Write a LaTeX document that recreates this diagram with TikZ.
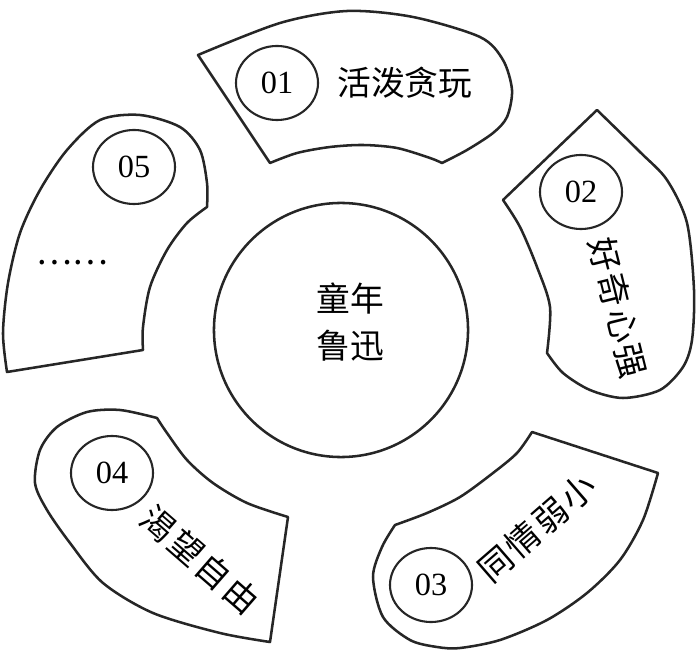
\documentclass[tikz,border=0pt]{standalone}
\usepackage{fontspec}
\setmainfont{Liberation Serif}
\newfontfamily\cjk{Noto Sans CJK SC}
\newfontfamily\cjkwide[LetterSpace=8]{Noto Sans CJK SC}
\usepackage{tikz}
\usetikzlibrary{shapes.geometric,positioning}
\tikzset{
  petal/.style={draw=black!85,line width=1.8pt,line join=round},
  hub/.style={circle,draw=black!85,line width=1.8pt,minimum size=6.35cm,inner sep=0pt},
  num/.style={ellipse,draw=black!85,line width=1.5pt,minimum width=2.05cm,
              minimum height=1.85cm,inner sep=0pt,font=\fontsize{23}{23}\selectfont},
  lbl/.style={inner sep=0pt,font=\cjk\fontsize{24}{33}\selectfont},
  tilted/.style={inner sep=0pt,font=\cjkwide\fontsize{24}{33}\selectfont},
}

\begin{document}
\begin{tikzpicture}[x=0.025cm,y=0.025cm]
  \useasboundingbox (0,0) rectangle (696,652);

  % centre
  \node[hub] (hub) at (341,322) {};
  \node[lbl,align=center] (title) at (350,330) {童年\\鲁迅};

  % petals
  \draw[petal] (198,597) --plot[smooth] coordinates {(198,597) (280,629) (347,641) (413,635) (480,615)
      (503,592) (512,562) (507,535) (493,519) (467,502) (442,489)}
    --plot[smooth] coordinates {(442,489) (430,494) (397,504) (363,507) (330,505) (297,499) (270,489)} -- cycle;
  \draw[petal] (503,452) -- (597,542) --plot[smooth] coordinates {(597,542) (640,500) (667,472) (687,429)
      (694,362) (692,312) (683,285) (660,262) (623,254) (590,262) (563,279) (547,299)}
    --plot[smooth] coordinates {(547,299) (550,345) (537,385) (520,425) (503,452)} -- cycle;
  \draw[petal] (532,220) -- (658,179) --plot[smooth] coordinates {(658,179) (643,132) (620,92) (587,59)
      (547,32) (500,12) (460,4) (437,5) (410,12) (383,35) (373,75) (382,105) (395,127)}
    --plot[smooth] coordinates {(395,127) (427,139) (460,155) (493,179) (517,199) (532,220)} -- cycle;
  \draw[petal] (288,135) -- (270,10) --plot[smooth] coordinates {(270,10) (220,19) (153,39) (103,69)
      (70,109) (47,142) (35,169) (40,202) (57,225) (87,240) (120,242) (157,234)}
    --plot[smooth] coordinates {(157,234) (167,219) (187,192) (213,169) (247,149) (288,135)} -- cycle;
  \draw[petal] (7,280) -- (143,302) --plot[smooth] coordinates {(143,302) (143,325) (150,365) (167,402)
      (187,429) (207,445)}
    --plot[smooth] coordinates {(207,445) (207,469) (200,502) (180,525) (140,537) (100,532) (67,502)
      (40,462) (20,419) (8,369) (3,319) (7,280)} -- cycle;

  % numbers
  \node[num] (n1) at (277,569) {01};
  \node[num] (n2) at (581,460) {02};
  \node[num] (n3) at (431,67) {03};
  \node[num] (n4) at (112,179) {04};
  \node[num] (n5) at (134,485) {05};

  % labels
  \node[lbl,right=0.45cm of n1] (t1) {活泼贪玩};
  \node[tilted,rotate=-76] (t2) at (618,344) {好奇心强};
  \node[tilted,rotate=41] (t3) at (537,124) {同情弱小};
  \node[tilted,rotate=-41] (t4) at (200,92) {渴望自由};
  \node[lbl] (t5) at (72,389) {……};
\end{tikzpicture}
\end{document}
